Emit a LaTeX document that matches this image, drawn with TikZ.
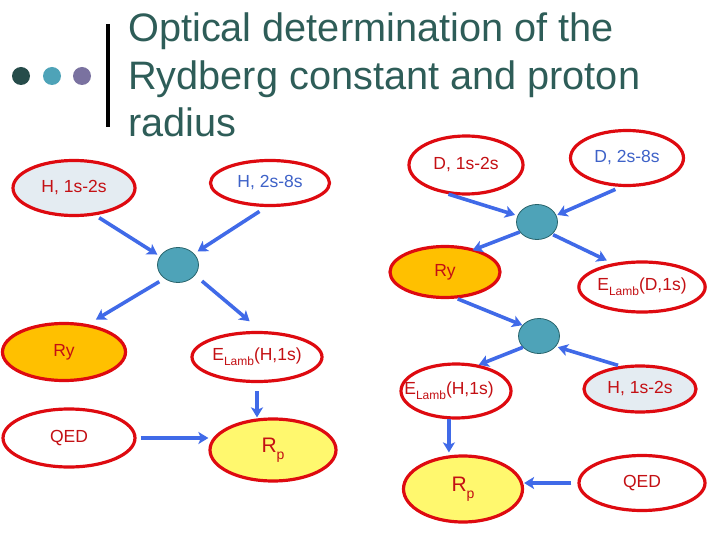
\documentclass[tikz,border=0pt]{standalone}
\usepackage{fontspec}
\setmainfont{Liberation Sans}
\usetikzlibrary{shapes.geometric,arrows.meta,calc}
\definecolor{titlec}{RGB}{46,93,88}
\definecolor{redline}{RGB}{222,10,16}
\definecolor{redtext}{RGB}{196,16,20}
\definecolor{bluetext}{RGB}{62,98,200}
\definecolor{arrowc}{RGB}{64,106,232}
\definecolor{lightfill}{RGB}{228,236,242}
\definecolor{orangefill}{RGB}{255,192,0}
\definecolor{yellowfill}{RGB}{255,248,110}
\definecolor{tealfill}{RGB}{78,163,184}
\definecolor{tealline}{RGB}{40,100,108}
\definecolor{dotA}{RGB}{38,76,74}
\definecolor{dotB}{RGB}{78,163,184}
\definecolor{dotC}{RGB}{122,114,160}
\newcommand\ElambTxt[1]{E\raisebox{-5bp}{\fontsize{12bp}{12bp}\selectfont Lamb}(#1)}
\newcommand\RpTxt{{\fontsize{21bp}{24bp}\selectfont R}\raisebox{-7bp}{\fontsize{14bp}{14bp}\selectfont p}}
\tikzset{
  ell/.style={ellipse, draw=redline, line width=3.2bp, inner sep=0pt, fill=white,
    font=\fontsize{17.5bp}{20bp}\selectfont, text=redtext},
  hub/.style={ellipse, draw=tealline, fill=tealfill, line width=0.8bp,
    minimum width=41bp, minimum height=35bp, inner sep=0pt},
  arr/.style={draw=arrowc, line width=3.6bp, -{Stealth[length=10bp,width=12bp,inset=2.5bp]}},
  ttl/.style={anchor=base west, inner sep=0pt, text=titlec, font=\fontsize{39.7bp}{46bp}\selectfont}
}
\begin{document}
\begin{tikzpicture}[x=1bp,y=-1bp]
\useasboundingbox (0,0) rectangle (720,540);
% header decoration
\fill[dotA] (21,76) circle (9bp);
\fill[dotB] (52,76) circle (9bp);
\fill[dotC] (82,76) circle (9bp);
\draw[line width=4bp] (108,24) -- (108,127);
\node[ttl] (t1) at (128,42) {Optical determination of the};
\node[ttl] (t2) at (128,90) {Rydberg constant and proton};
\node[ttl] (t3) at (128,137) {radius};
% left graph
\node[ell, fill=lightfill, minimum width=122bp, minimum height=55bp] (hA) at (74,188) {H, 1s-2s};
\node[ell, text=bluetext, minimum width=119bp, minimum height=45bp] (hB) at (270,183) {H, 2s-8s};
\node[hub] (c1) at (178,265) {};
\node[ell, fill=orangefill, minimum width=123bp, minimum height=57bp] (ryL) at (64,352) {Ry};
\node[ell, minimum width=130bp, minimum height=49bp] (elL) at (257,357) {\ElambTxt{H,1s}};
\node[ell, minimum width=132bp, minimum height=58bp] (qedL) at (69,438) {QED};
\node[ell, fill=yellowfill, minimum width=126bp, minimum height=62bp] (rpL) at (273,450) {\RpTxt};
% right graph
\node[ell, minimum width=114bp, minimum height=58bp] (dA) at (466,165) {D, 1s-2s};
\node[ell, text=bluetext, minimum width=113bp, minimum height=55bp] (dB) at (627,158) {D, 2s-8s};
\node[hub] (c2) at (537,222) {};
\node[ell, fill=orangefill, minimum width=110bp, minimum height=51bp] (ryR) at (445,272) {Ry};
\node[ell, minimum width=120bp, minimum height=50bp] (edR) at (642,287) {\ElambTxt{D,1s}};
\node[hub] (c3) at (539,336) {};
\node[ell, minimum width=110bp, minimum height=54bp,
  label={[text=redtext, font=\fontsize{17.5bp}{20bp}\selectfont, xshift=-7bp]center:\ElambTxt{H,1s}}] (elR) at (456,391) {};
\node[ell, fill=lightfill, minimum width=112bp, minimum height=46bp] (hR) at (640,389) {H, 1s-2s};
\node[ell, fill=yellowfill, minimum width=119bp, minimum height=66bp] (rpR) at (463,489) {\RpTxt};
\node[ell, minimum width=126bp, minimum height=55bp] (qedR) at (642,483) {QED};
% left arrows
\draw[arr, shorten <=4.5bp, shorten >=3bp] (hA.-52) -- (c1.154);
\draw[arr, shorten <=8bp, shorten >=4bp] (hB.-99) -- (c1.35);
\draw[arr, shorten <=6bp, shorten >=9bp] (c1.-135) -- (ryL.49);
\draw[arr, shorten <=9bp, shorten >=15bp] (c1.-31) -- (elL.81);
\draw[arr, shorten <=8bp] (elL.south) -- (elL.south |- rpL.north);
\draw[arr, shorten <=4bp] (qedL.east) -- (qedL.east -| rpL.west);
% right arrows
\draw[arr, shorten >=2.5bp] (dA.-121) -- (c2.162);
\draw[arr, shorten <=6bp, shorten >=1bp] (dB.-102) -- (c2.19);
\draw[arr, shorten >=-3bp] (c2.-150) -- (ryR.37);
\draw[arr, shorten <=1bp, shorten >=6.5bp] (c2.-39) -- (edR.141);
\draw[arr, shorten <=1bp] (ryR.-66) -- (c3.147);
\draw[arr] (c3.-145) -- (elR.49);
\draw[arr, shorten <=2bp, shorten >=2bp] (hR.131) -- (c3.-32);
\draw[arr, shorten >=2bp] (elR.-104) -- (elR.-104 |- rpR.north);
\draw[arr, shorten <=6bp] (qedR.west) -- (qedR.west -| rpR.east);
\end{tikzpicture}
\end{document}
